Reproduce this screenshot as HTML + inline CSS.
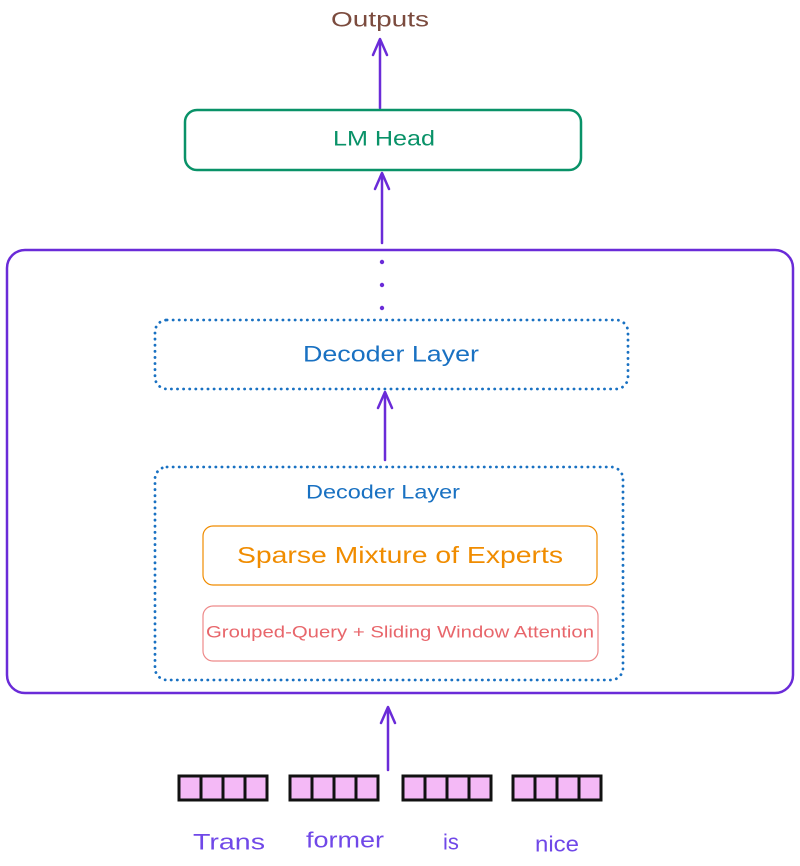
<!DOCTYPE html>
<html><head><meta charset="utf-8"><style>
html,body{margin:0;padding:0;background:#fff;}
svg{display:block;}
text{font-family:"Liberation Sans",sans-serif;text-anchor:middle;dominant-baseline:central;}
</style></head><body>
<svg width="800" height="866" viewBox="0 0 800 866" xmlns="http://www.w3.org/2000/svg">
<g fill="none" stroke="#6a2bd8" stroke-width="2.5" stroke-linecap="round" stroke-linejoin="round">
<line x1="380" y1="108" x2="380" y2="40"/><polyline points="373,55 380,39 387,55"/>
<line x1="382" y1="243" x2="382" y2="174"/><polyline points="375,189 382,173 389,189"/>
<line x1="385" y1="460" x2="385" y2="393"/><polyline points="378,408 385,392 392,408"/>
<line x1="388" y1="770" x2="388" y2="708"/><polyline points="381,723 388,707 395,723"/>
<rect x="7" y="250" width="786" height="443" rx="18"/>
</g>
<g fill="#6a2bd8"><circle cx="382" cy="262" r="2.2"/><circle cx="382" cy="285" r="2.2"/><circle cx="382" cy="308" r="2.2"/></g>
<text x="380" y="20" font-size="21" fill="#7b4b3e" textLength="98" lengthAdjust="spacingAndGlyphs">Outputs</text>
<rect x="185" y="110" width="396" height="60" rx="12" fill="none" stroke="#099268" stroke-width="2.5"/>
<text x="384" y="139" font-size="21" fill="#099268" textLength="102" lengthAdjust="spacingAndGlyphs">LM Head</text>
<g fill="none" stroke="#1971c2" stroke-width="2.8" stroke-dasharray="0.1 6" stroke-linecap="round">
<rect x="155" y="320" width="473" height="69" rx="12"/>
<rect x="155" y="467" width="468" height="213" rx="12"/>
</g>
<text x="391" y="354" font-size="22" fill="#1971c2" textLength="176" lengthAdjust="spacingAndGlyphs">Decoder Layer</text>
<text x="383" y="493" font-size="19" fill="#1971c2" textLength="154" lengthAdjust="spacingAndGlyphs">Decoder Layer</text>
<rect x="203" y="526" width="394" height="59" rx="10" fill="none" stroke="#f08c00" stroke-width="1.2"/>
<text x="400" y="555" font-size="23" fill="#f08c00" textLength="326" lengthAdjust="spacingAndGlyphs">Sparse Mixture of Experts</text>
<rect x="203" y="606" width="395" height="55" rx="10" fill="none" stroke="#ee8a8a" stroke-width="1.2"/>
<text x="400" y="632" font-size="17" fill="#e8666b" textLength="388" lengthAdjust="spacingAndGlyphs">Grouped-Query + Sliding Window Attention</text>
<g stroke="#111" stroke-width="3" fill="#f4b9f6">
<rect x="179" y="776" width="88" height="24"/><line x1="201" y1="776" x2="201" y2="800"/><line x1="223" y1="776" x2="223" y2="800"/><line x1="245" y1="776" x2="245" y2="800"/>
<rect x="290" y="776" width="88" height="24"/><line x1="312" y1="776" x2="312" y2="800"/><line x1="334" y1="776" x2="334" y2="800"/><line x1="356" y1="776" x2="356" y2="800"/>
<rect x="403" y="776" width="88" height="24"/><line x1="425" y1="776" x2="425" y2="800"/><line x1="447" y1="776" x2="447" y2="800"/><line x1="469" y1="776" x2="469" y2="800"/>
<rect x="513" y="776" width="88" height="24"/><line x1="535" y1="776" x2="535" y2="800"/><line x1="557" y1="776" x2="557" y2="800"/><line x1="579" y1="776" x2="579" y2="800"/>
</g>
<g font-size="22" fill="#7048e8">
<text x="229" y="842" textLength="72" lengthAdjust="spacingAndGlyphs">Trans</text>
<text x="345" y="840" textLength="78" lengthAdjust="spacingAndGlyphs">former</text>
<text x="451" y="842">is</text>
<text x="557" y="844" textLength="44" lengthAdjust="spacingAndGlyphs">nice</text>
</g>
</svg>
</body></html>
